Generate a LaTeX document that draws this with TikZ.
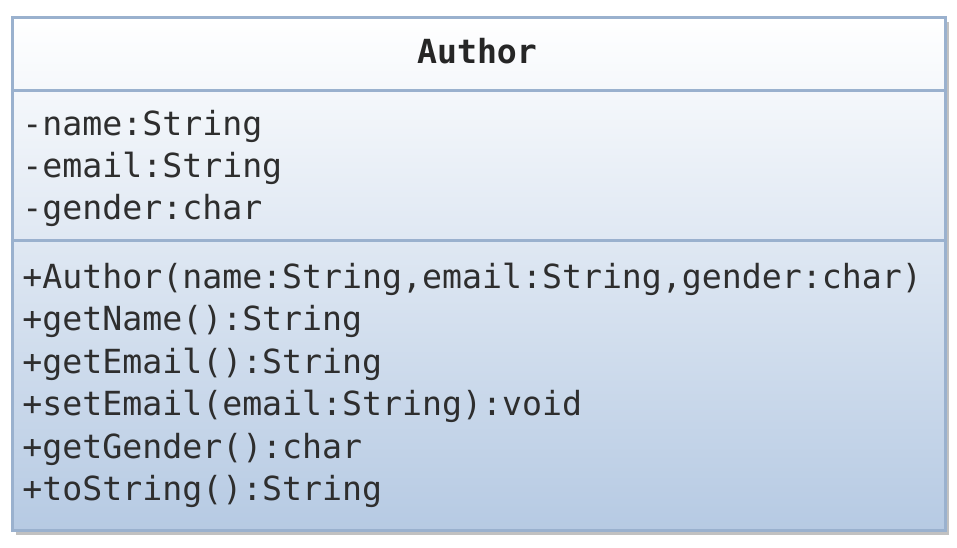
\documentclass[tikz,border=0pt]{standalone}
\usepackage{fontspec}
\usepackage{tikz}
\usetikzlibrary{
	calc,
	positioning,
	shadows,
}
\newfontfamily\umlmono{DejaVu Sans Mono}
\definecolor{umlline}{HTML}{9AB1CE}
\definecolor{umlfill}{HTML}{B6CAE3}
\definecolor{umltext}{HTML}{2E2E2E}
\tikzset{class box/.style={
	draw=umlline,
	line width=1.5pt,
	top color=white,
	middle color=umlfill!45!white,
	bottom color=umlfill,
	inner sep=0mm,
	minimum width=466.5pt,
	minimum height=256.5pt,
	anchor=north west,
	drop shadow={shadow xshift=2pt, shadow yshift=-2pt, fill=black!70, opacity=0.35},
},
class name/.style={
	anchor=base,
	inner sep=0mm,
	font=\umlmono\bfseries\fontsize{16.6}{20}\selectfont,
	text=black!85,
},
member/.style={
	anchor=base west,
	inner sep=0mm,
	font=\umlmono\fontsize{16.6}{20}\selectfont,
	text=umltext,
},
divider/.style={
	umlline,
	line width=1.5pt,
}}
\begin{document}
\begin{tikzpicture}[x=0.5pt,y=-0.5pt]
\useasboundingbox (0,0) rectangle (957,547);

\node(cls)[class box] at (10.5,16) {};
\node(name)[class name] at (477,63) {Author};

\coordinate (div1) at (0,90);
\coordinate (div2) at (0,240);
\draw[divider] (cls.west |- div1) -- (cls.east |- div1);
\draw[divider] (cls.west |- div2) -- (cls.east |- div2);

\foreach \txt [count=\i] in {-name:String, -email:String, -gender:char}
\node(attr\i)[member] at (22,93+42*\i) {\txt};

\foreach \txt [count=\i] in {{+Author(name:String,email:String,gender:char)}, +getName():String, +getEmail():String, +setEmail(email:String):void, +getGender():char, +toString():String}
\node(op\i)[member] at (22,245.5+42.5*\i) {\txt};

\end{tikzpicture}
\end{document}
